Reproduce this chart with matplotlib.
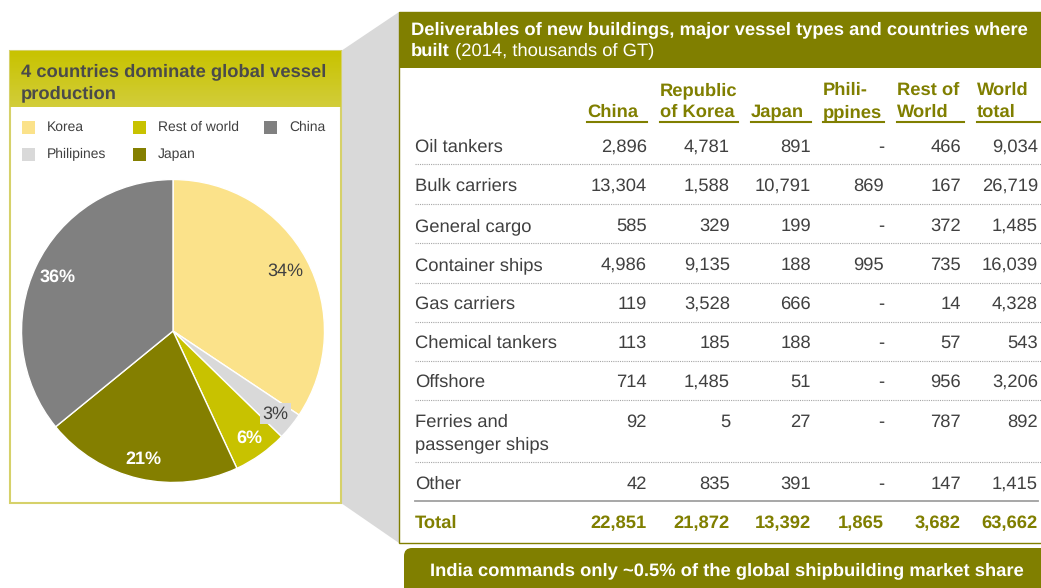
import matplotlib
matplotlib.use("Agg")
import matplotlib.pyplot as plt
from matplotlib.patches import Rectangle, Polygon, FancyBboxPatch
import numpy as np

plt.rcParams['font.family'] = ['Liberation Sans', 'DejaVu Sans']
plt.rcParams['text.hinting'] = 'no_hinting'

# Deliveries of new buildings, 2014, thousands of GT
vessel_types = ['Oil tankers', 'Bulk carriers', 'General cargo', 'Container ships',
                'Gas carriers', 'Chemical tankers', 'Offshore',
                'Ferries and\npassenger ships', 'Other']
china = [2896, 13304, 585, 4986, 119, 113, 714, 92, 42]
korea = [4781, 1588, 329, 9135, 3528, 185, 1485, 5, 835]
japan = [891, 10791, 199, 188, 666, 188, 51, 27, 391]
philippines = [None, 869, None, 995, None, None, None, None, None]
rest_of_world = [466, 167, 372, 735, 14, 57, 956, 787, 147]
world_total = [9034, 26719, 1485, 16039, 4328, 543, 3206, 892, 1415]
totals = [22851, 21872, 13392, 1865, 3682, 63662]
column_heads = ['China', 'Republic\nof Korea', 'Japan', 'Phili-\nppines', 'Rest of\nWorld', 'World\ntotal']

# pie slices, clockwise from the top
pie_labels = ['Korea', 'Philipines', 'Rest of world', 'Japan', 'China']
pie_values = [totals[1], totals[3], totals[4], totals[2], totals[0]]

OLIVE = '#807f00'
DARK = '#404040'
FS = 13.2
pie_colors = ['#fbe28a', '#d9d9d9', '#c8c200', '#847f00', '#808080']

fig = plt.figure(figsize=(10.41, 5.88), dpi=100)
ax = fig.add_axes([0, 0, 1, 1])


def lines(x, y, s, step=22, **kw):
    # multi-line text, every line on its own baseline
    for k, part in enumerate(s.split('\n')):
        ax.text(x, y + k * step, part, va='baseline', zorder=3, **kw)


# grey connector between the two panels
ax.add_patch(Polygon([(341, 51), (399, 12), (399, 543), (341, 503)],
                     closed=True, fc='#d9d9d9', ec='none', zorder=0))

# left panel
ax.add_patch(Rectangle((10, 51), 331, 452, fc='white', ec='#d6d16a', lw=1.5, zorder=1))
grad = np.linspace(0, 1, 50).reshape(-1, 1)
ax.imshow(grad, extent=(10, 341, 107, 51), cmap=matplotlib.colors.LinearSegmentedColormap.from_list(
    'hdr', ['#c8c300', '#d2cd3a']), aspect='auto', zorder=2)
ax.set_xlim(0, 1041)
ax.set_ylim(588, 0)
ax.axis('off')
lines(21, 76, '4 countries dominate global vessel\nproduction', fontsize=FS,
      fontweight='bold', color='#4a4a4a')

legend_pos = [(22, 127), (22, 154), (133, 127), (133, 154), (264, 127)]
for (lx, ly), lab, col in zip(legend_pos, pie_labels, pie_colors):
    ax.add_patch(Rectangle((lx, ly - 6.5), 13, 13, fc=col, ec='none', zorder=3))
    ax.text(lx + 25, ly, lab, fontsize=10, color=DARK, va='center', zorder=3)

# right panel
ax.add_patch(Rectangle((399, 12), 700, 531, fc='white', ec=OLIVE, lw=1, zorder=1))
ax.add_patch(Rectangle((399, 12), 700, 56, fc=OLIVE, ec='none', zorder=2))
ax.text(411, 30, 'Deliverables of new buildings, major vessel types and countries where',
        fontsize=FS, fontweight='bold', color='white', va='center', zorder=3)
t_built = ax.text(411, 51, 'built', fontsize=FS, fontweight='bold', color='white',
                  va='center', zorder=3)
ax.annotate(' (2014, thousands of GT)', xy=(1, 0.5), xycoords=t_built, fontsize=FS,
            color='white', va='center', zorder=3)

col_right = [647, 730, 811, 884, 961, 1038]
head_left = [587, 660, 751, 823, 897, 977]
head_end = [647, 738, 811, 884, 964, 1041]
for hx, he, head in zip(head_left, head_end, column_heads):
    parts = head.split('\n')
    for k, part in enumerate(reversed(parts)):
        ax.text(hx, 117 - k * 22, part, fontsize=FS, fontweight='bold', color=OLIVE,
                va='baseline', zorder=3)
    ax.plot([hx, he], [121.5, 121.5], color=OLIVE, lw=1.5, zorder=3)

row_y = [145, 184, 224, 263, 302, 341, 380, 420, 482]
sep_y = [164, 204, 243, 283, 322, 361, 400, 462]
columns = [china, korea, japan, philippines, rest_of_world, world_total]


def fmt(v):
    return '-' if v is None else f'{v:,}'


for i, (ry, name) in enumerate(zip(row_y, vessel_types)):
    lines(415, ry + 7, name, fontsize=FS, color=DARK)
    for cx, col in zip(col_right, columns):
        ax.text(cx, ry + 7, fmt(col[i]), fontsize=FS, color=DARK, ha='right',
                va='baseline', zorder=3)

for sy in sep_y:
    ax.plot([415, 1041], [sy, sy], color='#a6a6a6', lw=0.8, ls=(0, (1, 1)), zorder=3)
ax.plot([415, 1038], [501, 501], color='#a0a0a0', lw=1.3, zorder=3)

ax.text(415, 528, 'Total', fontsize=FS, fontweight='bold', color=OLIVE, va='baseline', zorder=3)
for cx, tv in zip(col_right, totals):
    ax.text(cx, 528, f'{tv:,}', fontsize=FS, fontweight='bold', color=OLIVE,
            ha='right', va='baseline', zorder=3)

# bottom banner
ax.add_patch(FancyBboxPatch((404, 548), 700, 60, boxstyle='round,pad=0,rounding_size=8',
                            fc=OLIVE, ec='none', zorder=2))
ax.text(727, 571, 'India commands only ~0.5% of the global shipbuilding market share',
        fontsize=FS, fontweight='bold', color='white', ha='center', va='center', zorder=3)

# pie
pcx, pcy, pr = 173, 331, 153
pax = fig.add_axes([(pcx - pr) / 1041, (588 - pcy - pr) / 588, 2 * pr / 1041, 2 * pr / 588])
wedges, texts, autotexts = pax.pie(pie_values, colors=pie_colors, startangle=90,
                                   counterclock=False, autopct='%.0f%%', pctdistance=0.87,
                                   wedgeprops=dict(edgecolor='white', linewidth=1))
pax.set_xlim(-1.01, 1.01)
pax.set_ylim(-1.01, 1.01)
pax.set_aspect('equal')
for w, at, col in zip(wedges, autotexts, pie_colors):
    at.set_fontsize(13)
    if col in ('#fbe28a', '#d9d9d9'):
        at.set_color(DARK)
    else:
        at.set_color('white')
        at.set_fontweight('bold')
autotexts[0].set_position((0.84 * np.cos(np.radians(28)), 0.84 * np.sin(np.radians(28))))
autotexts[4].set_position((0.84 * np.cos(np.radians(155)), 0.84 * np.sin(np.radians(155))))
autotexts[1].set_bbox(dict(fc='#d9d9d9', ec='none', pad=1.5))

fig.savefig('out.png', dpi=100)
